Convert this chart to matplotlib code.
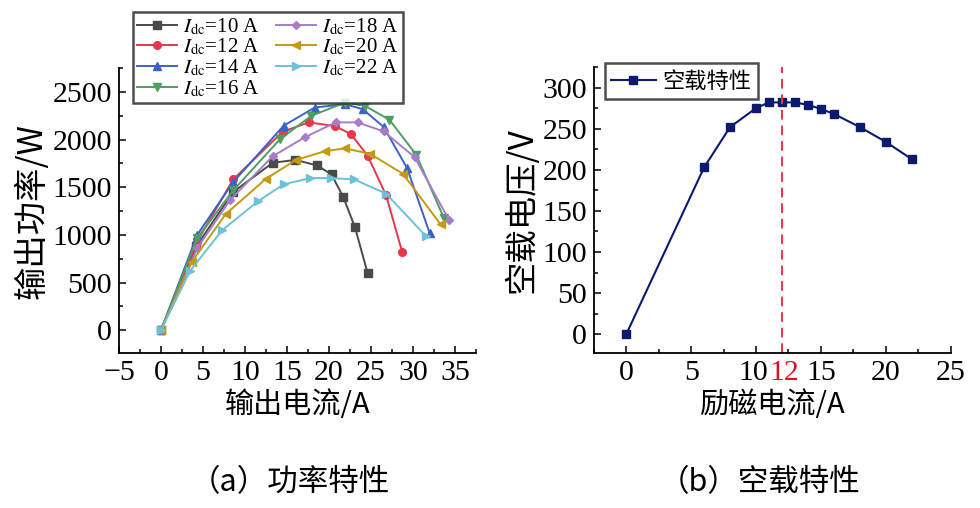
import matplotlib
matplotlib.use("Agg")
import matplotlib.pyplot as plt
from matplotlib.ticker import MultipleLocator
from matplotlib.transforms import ScaledTranslation

plt.rcParams["font.family"] = ["Liberation Serif", "Noto Sans CJK SC"]
plt.rcParams["mathtext.fontset"] = "stix"
plt.rcParams["axes.unicode_minus"] = True

CJK = ["Noto Sans CJK SC", "Liberation Serif"]

# ── (a) power characteristic: output current (A) vs output power (W) ────────
labels_a = [r"$I_{\rm dc}$=10 A", r"$I_{\rm dc}$=12 A", r"$I_{\rm dc}$=14 A",
            r"$I_{\rm dc}$=16 A", r"$I_{\rm dc}$=18 A", r"$I_{\rm dc}$=20 A",
            r"$I_{\rm dc}$=22 A"]
i10 = [0, 4.2, 8.6, 13.3, 16.0, 18.6, 20.3, 21.7, 23.1, 24.6]
p10 = [0, 880, 1450, 1756, 1787, 1728, 1634, 1397, 1078, 598]
i12 = [0, 4.3, 8.6, 14.5, 17.6, 20.7, 22.6, 24.6, 26.8, 28.7]
p12 = [0, 930, 1582, 2083, 2180, 2142, 2058, 1832, 1415, 824]
i14 = [0, 4.3, 8.6, 14.6, 18.3, 21.9, 24.0, 26.5, 29.3, 32.0]
p14 = [0, 998, 1554, 2145, 2336, 2371, 2319, 2134, 1700, 1015]
i16 = [0, 4.3, 8.6, 14.2, 17.9, 21.9, 24.3, 27.2, 30.4, 33.7]
p16 = [0, 963, 1467, 2006, 2249, 2388, 2353, 2207, 1839, 1172]
i18 = [0, 4.3, 8.2, 13.3, 17.1, 20.8, 23.4, 26.5, 30.2, 34.3]
p18 = [0, 859, 1363, 1825, 2023, 2180, 2180, 2086, 1815, 1154]
i20 = [0, 3.7, 7.7, 12.5, 16.1, 19.5, 21.9, 24.9, 28.8, 33.3]
p20 = [0, 720, 1217, 1589, 1787, 1877, 1908, 1850, 1641, 1109]
i22 = [0, 3.5, 7.3, 11.6, 14.6, 17.8, 20.2, 23.0, 26.8, 31.5]
p22 = [0, 626, 1050, 1356, 1530, 1596, 1596, 1582, 1432, 991]

# ── (b) no-load characteristic: excitation current (A) vs voltage (V) ───────
i_exc = [0, 6, 8, 10, 11, 12, 13, 14, 15, 16, 18, 20, 22]
v_noload = [0, 203, 252, 275, 282, 282, 282, 279, 274, 268, 252, 234, 213]
xticks_b = [0, 5, 10, 12, 15, 20, 25]

series_a = [(i10, p10), (i12, p12), (i14, p14), (i16, p16),
            (i18, p18), (i20, p20), (i22, p22)]
colors_a = ["#4a4a4a", "#e8364a", "#3c62c8", "#4e9e62",
            "#a77cc8", "#c49a10", "#6cc2d8"]
markers_a = ["s", "o", "^", "v", "D", "<", ">"]

fig = plt.figure(figsize=(9.8, 5.08), dpi=100)
ax1 = fig.add_axes([0.1214, 0.305, 0.3643, 0.561])
ax2 = fig.add_axes([0.606, 0.305, 0.364, 0.563])


def style_axes(ax):
    for side in ("top", "right"):
        ax.spines[side].set_visible(False)
    for side in ("left", "bottom"):
        ax.spines[side].set_linewidth(1.3)
    ax.tick_params(which="both", direction="in", labelsize=21.5, width=1.1)
    ax.tick_params(which="major", length=5, pad=5)
    ax.tick_params(which="minor", length=3)


for (x, y), lab, c, m in zip(series_a, labels_a, colors_a, markers_a):
    ms = 4.5 if m == "D" else 5.5
    ax1.plot(x, y, color=c, marker=m, ms=ms, lw=1.4, label=lab)

ax1.set_xlim(-5, 37.5)
ax1.set_ylim(-240, 2750)
ax1.xaxis.set_major_locator(MultipleLocator(5))
ax1.xaxis.set_minor_locator(MultipleLocator(2.5))
ax1.yaxis.set_major_locator(MultipleLocator(500))
ax1.yaxis.set_minor_locator(MultipleLocator(250))
style_axes(ax1)
ax1.set_xlabel("输出电流/A", fontsize=21, family=CJK, labelpad=3)
ax1.set_ylabel("输出功率/W", fontsize=24, family=CJK, labelpad=2)
leg1 = ax1.legend(ncol=2, loc="upper left", bbox_to_anchor=(0.039, 1.196),
                  fontsize=15, frameon=True, fancybox=False,
                  edgecolor="#222222", handlelength=1.9, handletextpad=0.3,
                  columnspacing=0.8, labelspacing=0.0, borderpad=0.2,
                  borderaxespad=0)
leg1.get_frame().set_linewidth(1.8)

ax2.plot(i_exc, v_noload, color="#0c1a6e", marker="s", ms=6, lw=1.5,
         label="空载特性")
ax2.axvline(12, color="#e8364a", ls=(0, (5, 3)), lw=1.4)
ax2.set_xlim(-2.5, 25)
ax2.set_ylim(-23, 325)
ax2.set_xticks(xticks_b)
ax2.set_xticklabels([str(t) for t in xticks_b])
ax2.xaxis.set_minor_locator(MultipleLocator(2.5))
ax2.yaxis.set_major_locator(MultipleLocator(50))
ax2.yaxis.set_minor_locator(MultipleLocator(25))
style_axes(ax2)
# "10" and "12" sit close together: nudge them apart a little
nudge = {10: -3, 12: 2}
for t, lab in zip(xticks_b, ax2.get_xticklabels()):
    if t == 12:
        lab.set_color("#e01020")
    if t in nudge:
        lab.set_transform(lab.get_transform() +
                          ScaledTranslation(nudge[t] / 100, 0,
                                            fig.dpi_scale_trans))
ax2.set_xlabel("励磁电流/A", fontsize=21, family=CJK, labelpad=3)
ax2.set_ylabel("空载电压/V", fontsize=24, family=CJK, labelpad=2)
leg2 = ax2.legend(loc="upper left", bbox_to_anchor=(0.03, 1.015),
                  prop={"family": CJK, "size": 16}, frameon=True,
                  fancybox=False, edgecolor="#222222", handlelength=2.0,
                  handletextpad=0.3, borderpad=0.3, borderaxespad=0)
leg2.get_frame().set_linewidth(1.8)

fig.text(0.296, 0.05, "（a）功率特性", fontsize=22, family=CJK,
         ha="center", va="center")
fig.text(0.775, 0.05, "（b）空载特性", fontsize=22, family=CJK,
         ha="center", va="center")

fig.savefig("out.png", dpi=100)
